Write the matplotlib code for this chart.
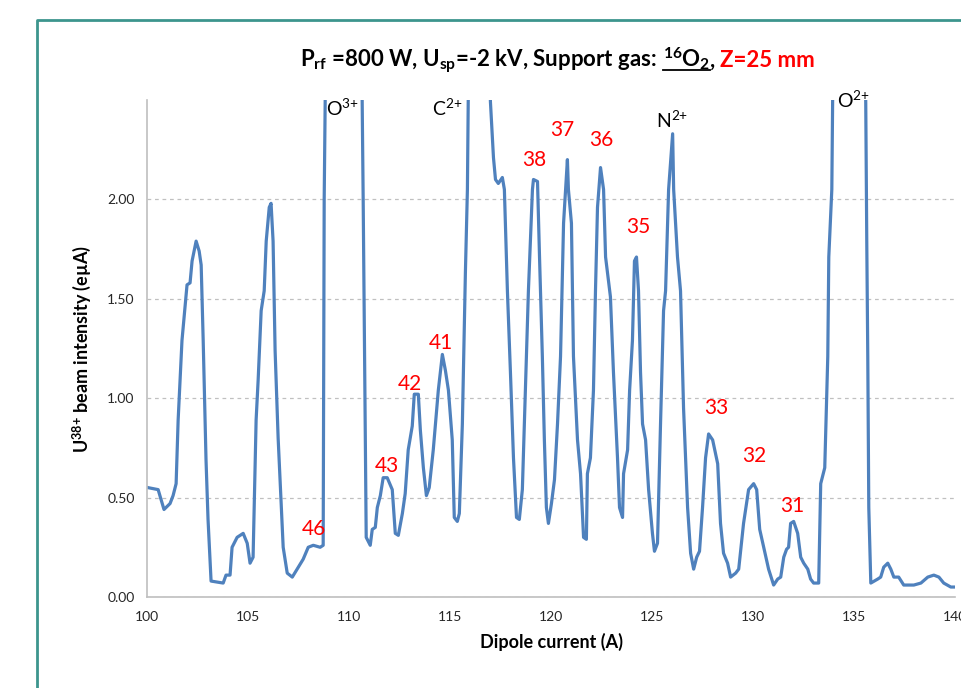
import matplotlib
matplotlib.use("Agg")
import matplotlib.pyplot as plt
from matplotlib.lines import Line2D

plt.rcParams['font.family'] = ['Lato', 'DejaVu Sans']
plt.rcParams['mathtext.fontset'] = 'custom'
plt.rcParams['mathtext.rm'] = 'Lato'
plt.rcParams['mathtext.bf'] = 'Lato:bold'
plt.rcParams['mathtext.it'] = 'Lato:italic'

# dipole current (A) and U38+ beam intensity (eµA)
current = [100.05, 100.55, 100.84, 101.14, 101.29, 101.44, 101.54, 101.73, 101.98, 102.13,
           102.23, 102.43, 102.58, 102.68, 102.78, 102.92, 103.02, 103.17, 103.77, 103.91,
           104.11, 104.21, 104.46, 104.76, 104.96, 105.10, 105.25, 105.40, 105.50, 105.65,
           105.80, 105.90, 106.05, 106.14, 106.24, 106.34, 106.49, 106.74, 106.94, 107.19,
           107.43, 107.73, 107.98, 108.23, 108.57, 108.72, 108.77, 108.87, 110.60, 110.70,
           110.80, 110.85, 111.05, 111.15, 111.30, 111.40, 111.55, 111.69, 111.89, 112.14,
           112.29, 112.44, 112.64, 112.78, 112.93, 113.13, 113.23, 113.43, 113.53, 113.68,
           113.83, 113.97, 114.17, 114.42, 114.62, 114.77, 114.92, 115.11, 115.21, 115.36,
           115.46, 115.61, 115.76, 115.86, 115.91, 116.20, 116.80, 117.00, 117.15, 117.25,
           117.39, 117.59, 117.69, 117.84, 117.99, 118.14, 118.29, 118.43, 118.58, 118.73,
           118.88, 119.08, 119.13, 119.33, 119.43, 119.57, 119.67, 119.77, 119.87, 120.02,
           120.17, 120.32, 120.47, 120.62, 120.81, 120.86, 121.01, 121.11, 121.31, 121.46,
           121.61, 121.75, 121.80, 121.95, 122.10, 122.20, 122.30, 122.45, 122.60, 122.70,
           122.94, 123.09, 123.29, 123.39, 123.54, 123.59, 123.79, 123.89, 124.03, 124.13,
           124.23, 124.33, 124.43, 124.53, 124.68, 124.83, 125.02, 125.12, 125.27, 125.42,
           125.57, 125.67, 125.82, 126.02, 126.07, 126.26, 126.41, 126.56, 126.76, 126.91,
           127.06, 127.21, 127.35, 127.50, 127.65, 127.80, 128.00, 128.25, 128.39, 128.54,
           128.74, 128.89, 129.14, 129.29, 129.53, 129.78, 130.03, 130.18, 130.33, 130.53,
           130.77, 131.02, 131.22, 131.37, 131.52, 131.66, 131.76, 131.86, 132.01, 132.21,
           132.36, 132.51, 132.71, 132.85, 133.00, 133.25, 133.35, 133.55, 133.70, 133.75,
           133.90, 133.95, 134.50, 135.50, 135.58, 135.63, 135.68, 135.73, 135.83, 136.17,
           136.32, 136.47, 136.67, 136.82, 136.97, 137.21, 137.46, 137.96, 138.31, 138.65,
           138.95, 139.20, 139.44, 139.79, 140.04]
intensity = [0.55, 0.54, 0.44, 0.47, 0.51, 0.57, 0.89, 1.29, 1.57, 1.58,
             1.69, 1.79, 1.74, 1.67, 1.29, 0.69, 0.39, 0.08, 0.07, 0.11,
             0.11, 0.25, 0.30, 0.32, 0.27, 0.17, 0.20, 0.89, 1.09, 1.44,
             1.54, 1.79, 1.96, 1.98, 1.79, 1.24, 0.80, 0.25, 0.12, 0.10,
             0.14, 0.19, 0.25, 0.26, 0.25, 0.26, 2.00, 3.00, 3.00, 2.00,
             0.90, 0.30, 0.26, 0.34, 0.35, 0.45, 0.51, 0.60, 0.60, 0.54,
             0.32, 0.31, 0.42, 0.52, 0.74, 0.86, 1.02, 1.02, 0.84, 0.65,
             0.51, 0.55, 0.74, 1.04, 1.22, 1.14, 1.04, 0.79, 0.40, 0.38,
             0.42, 0.87, 1.63, 2.05, 2.60, 3.50, 3.20, 2.49, 2.21, 2.10,
             2.08, 2.11, 2.05, 1.54, 1.13, 0.70, 0.40, 0.39, 0.54, 1.04,
             1.54, 2.05, 2.10, 2.09, 1.71, 1.21, 0.79, 0.45, 0.37, 0.47,
             0.59, 0.87, 1.21, 1.88, 2.20, 2.05, 1.88, 1.21, 0.79, 0.62,
             0.30, 0.29, 0.62, 0.70, 1.04, 1.54, 1.96, 2.16, 2.05, 1.71,
             1.51, 1.13, 0.70, 0.45, 0.40, 0.62, 0.74, 1.04, 1.29, 1.69,
             1.71, 1.54, 1.13, 0.87, 0.79, 0.54, 0.32, 0.23, 0.27, 0.87,
             1.44, 1.54, 2.05, 2.33, 2.05, 1.71, 1.54, 0.95, 0.45, 0.22,
             0.14, 0.20, 0.23, 0.45, 0.70, 0.82, 0.79, 0.67, 0.37, 0.22,
             0.17, 0.10, 0.12, 0.14, 0.37, 0.54, 0.57, 0.54, 0.34, 0.25,
             0.14, 0.06, 0.09, 0.10, 0.20, 0.24, 0.25, 0.37, 0.38, 0.32,
             0.20, 0.17, 0.14, 0.09, 0.07, 0.07, 0.57, 0.65, 1.21, 1.71,
             2.05, 2.60, 3.50, 3.20, 2.48, 1.79, 1.21, 0.45, 0.07, 0.09,
             0.10, 0.15, 0.17, 0.14, 0.10, 0.10, 0.06, 0.06, 0.07, 0.10,
             0.11, 0.10, 0.07, 0.05, 0.05]

# charge state labels (red) and contaminant labels (black)
q_labels = ['46', '43', '42', '41', '38', '37', '36', '35', '33', '32', '31']
q_x = [108.28, 111.89, 113.03, 114.57, 119.18, 120.56, 122.50, 124.33, 128.20, 130.08, 131.96]
q_y = [0.34, 0.66, 1.07, 1.28, 2.20, 2.35, 2.30, 1.86, 0.95, 0.71, 0.46]

ion_labels = ['O$^{3{+}}$', 'C$^{2{+}}$', 'N$^{2{+}}$', 'O$^{2{+}}$']
ion_x = [109.66, 114.87, 126.00, 134.99]
ion_y = [2.46, 2.46, 2.40, 2.50]

fig = plt.figure(figsize=(9.61, 6.88), dpi=100)
ax = fig.add_axes([0.153, 0.1323, 0.8408, 0.7224])

ax.plot(current, intensity, color='#4f81bd', lw=2.3, solid_joinstyle='round')

ax.set_xlim(100, 140)
ax.set_ylim(0, 2.5)
ax.set_xticks(range(100, 141, 5))
ax.set_yticks([0, 0.5, 1.0, 1.5, 2.0])
ax.set_yticklabels(['%.2f' % v for v in [0, 0.5, 1.0, 1.5, 2.0]])
ax.tick_params(length=0, labelsize=10, colors='#262626')
ax.tick_params(axis='y', pad=9)
ax.tick_params(axis='x', pad=10)
ax.grid(axis='y', color='#c0c0c0', ls=(0, (3, 3)), lw=0.9)
for s in ['top', 'right']:
    ax.spines[s].set_visible(False)
for s in ['left', 'bottom']:
    ax.spines[s].set_color('#bfbfbf')
    ax.spines[s].set_linewidth(1.2)

ax.set_xlabel('Dipole current (A)', fontsize=13, fontweight='bold', labelpad=7)
ax.set_ylabel(r'U$^{\mathbf{38{+}}}$ beam intensity (eµA)', fontsize=13, fontweight='bold', labelpad=10)

for lab, x, y in zip(q_labels, q_x, q_y):
    ax.text(x, y, lab, color='red', fontsize=15, ha='center', va='center')
for lab, x, y in zip(ion_labels, ion_x, ion_y):
    ax.text(x, y, lab, color='black', fontsize=14, ha='center', va='center', clip_on=False)

# title built from pieces so the last part can be red
pieces = [(r'P$_{\mathbf{rf}}$ =800 W, U$_{\mathbf{sp}}$=-2 kV, Support gas:', 'black', 6),
          (r'$^{\mathbf{16}}$O$_{\mathbf{2}}$', 'black', 0),
          (',', 'black', 5),
          ('Z=25 mm', 'red', 0)]
r = fig.canvas.get_renderer()
xpos = 300 / 961
ybase = 1 - 67 / 688
for i, (txt, col, gap) in enumerate(pieces):
    t = fig.text(xpos, ybase, txt, color=col, fontsize=16, fontweight='bold', va='baseline')
    bb = t.get_window_extent(r)
    if i == 1:
        fig.add_artist(Line2D([bb.x0 / fig.bbox.width, bb.x1 / fig.bbox.width],
                              [ybase - 3 / 688, ybase - 3 / 688], color='black', lw=1.3))
    xpos = (bb.x1 + gap) / fig.bbox.width

# teal frame of the slide
fig.add_artist(Line2D([37 / 961, 37 / 961, 1.0], [0.0, 1 - 20 / 688, 1 - 20 / 688],
                      color='#3c958d', lw=2))

fig.savefig('out.png', dpi=100)
